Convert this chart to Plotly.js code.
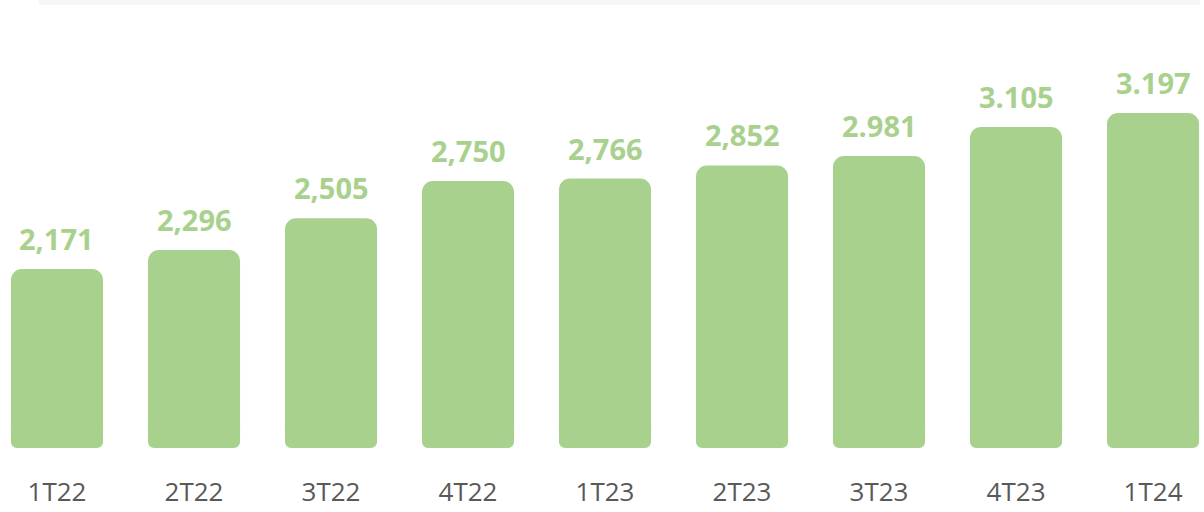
<!DOCTYPE html>
<html>
<head>
<meta charset="utf-8">
<script src="https://cdn.plot.ly/plotly-3.0.1.min.js"></script>
<style>html,body{margin:0;padding:0;background:#fff;}#chart{width:1204px;height:512px;}</style>
</head>
<body>
<div id="chart"></div>
<script>
// Quarters (categories)
const categories = ["1T22", "2T22", "3T22", "4T22", "1T23", "2T23", "3T23", "4T23", "1T24"];
// Bar heights
const values = [2171, 2296, 2505, 2750, 2766, 2852, 2914, 3105, 3197];
// Data labels exactly as printed
const labels = ["2,171", "2,296", "2,505", "2,750", "2,766", "2,852", "2.981", "3.105", "3.197"];

const axisFloor = 994;     // value at the bottom of the plot area
const axisTop = 3940;      // value at the top of the plot area
const footUnits = 200;     // height of the rounded foot piece
const barColor = "#a9d18e";
const barWidth = 0.672;

// Main body: from a little above the floor to the value, top corners rounded
const bodyTrace = {
  type: "bar",
  x: categories,
  y: values.map(v => v - axisFloor - 40),
  base: values.map(() => axisFloor + 40),
  width: barWidth,
  marker: {color: barColor, cornerradius: 11, line: {width: 0}},
  hoverinfo: "skip",
  showlegend: false
};
// Foot: downward bar reaching the floor, bottom corners rounded
const footTrace = {
  type: "bar",
  x: categories,
  y: values.map(() => -footUnits),
  base: values.map(() => axisFloor + footUnits),
  width: barWidth,
  marker: {color: barColor, cornerradius: 6, line: {width: 0}},
  hoverinfo: "skip",
  showlegend: false
};

const annotations = categories.map((c, i) => ({
  x: c, y: values[i], xref: "x", yref: "y",
  text: "<b>" + labels[i] + "</b>",
  showarrow: false, yanchor: "bottom", yshift: 9,
  font: {family: "Open Sans, Noto Sans, sans-serif", size: 29, color: barColor}
}));

const layout = {
  width: 1204, height: 512,
  margin: {l: 0, r: 0, t: 0, b: 64, pad: 0},
  paper_bgcolor: "#ffffff", plot_bgcolor: "#ffffff",
  barmode: "overlay",
  showlegend: false,
  xaxis: {
    type: "category",
    range: [-0.416, 8.372],
    showgrid: false, zeroline: false, showline: false,
    ticks: "", ticklabelstandoff: 26,
    tickfont: {family: "Open Sans, Noto Sans, sans-serif", size: 26, color: "#595959"},
    fixedrange: true
  },
  yaxis: {
    range: [axisFloor, axisTop],
    visible: false, showgrid: false, zeroline: false,
    fixedrange: true
  },
  shapes: [{
    type: "rect", xref: "paper", yref: "paper",
    x0: 39 / 1204, x1: 1200 / 1204, y0: 1 - 5 / 448, y1: 1,
    fillcolor: "#f6f6f6", line: {width: 0}, layer: "below"
  }],
  annotations: annotations
};

Plotly.newPlot("chart", [bodyTrace, footTrace], layout, {displayModeBar: false, staticPlot: true});
</script>
</body>
</html>
